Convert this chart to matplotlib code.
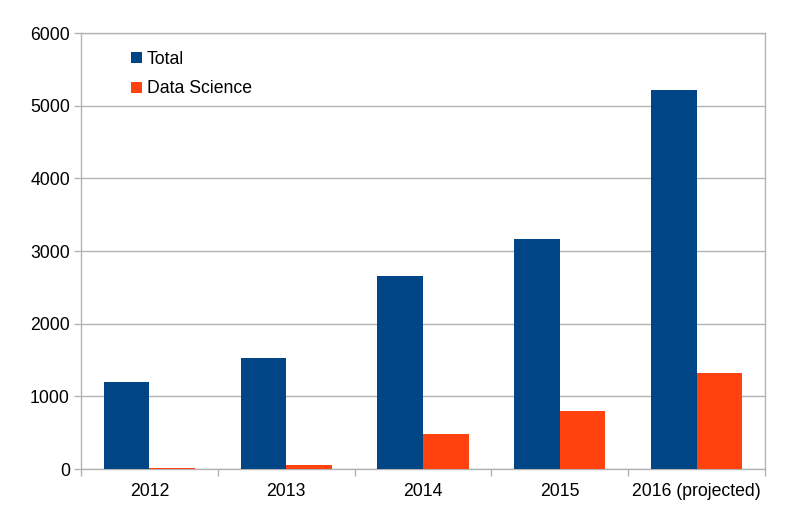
import numpy as np
import matplotlib.pyplot as plt

plt.rcParams['font.family'] = ['Liberation Sans', 'DejaVu Sans']

years = ['2012', '2013', '2014', '2015', '2016 (projected)']
total = [1200, 1530, 2650, 3160, 5220]
data_science = [15, 50, 480, 800, 1320]

fig = plt.figure(figsize=(8.06, 5.05), dpi=100)
ax = fig.add_axes([81 / 806, 1 - 469 / 505, 684 / 806, 436 / 505])

x = np.arange(len(years))
w = 1 / 3
ax.bar(x - w / 2, total, width=w, color='#004586', label='Total', zorder=3)
ax.bar(x + w / 2, data_science, width=w, color='#ff420e', label='Data Science', zorder=3)

fs = 12.7
ax.set_xlim(-0.5, len(years) - 0.5)
ax.set_ylim(0, 6000)
ax.set_yticks(range(0, 6001, 1000))
ax.set_xticks(x)
ax.set_xticklabels(years)
ax.set_xticks(np.arange(-0.5, len(years)), minor=True)
ax.tick_params(axis='x', which='major', length=0, pad=10, labelsize=fs)
ax.tick_params(axis='x', which='minor', length=5, color='#b3b3b3', width=1)
ax.tick_params(axis='y', length=5, color='#b3b3b3', width=1, pad=3, labelsize=fs)
ax.yaxis.grid(True, color='#b3b3b3', linewidth=1, zorder=0)
for s in ax.spines.values():
    s.set_color('#b3b3b3')
    s.set_linewidth(1)

ax.legend(loc='upper left', bbox_to_anchor=(0.05, 0.995), frameon=False,
          handlelength=0.6, handleheight=0.6, handletextpad=0.3,
          labelspacing=0.7, fontsize=fs)

fig.savefig('out.png', dpi=100)
